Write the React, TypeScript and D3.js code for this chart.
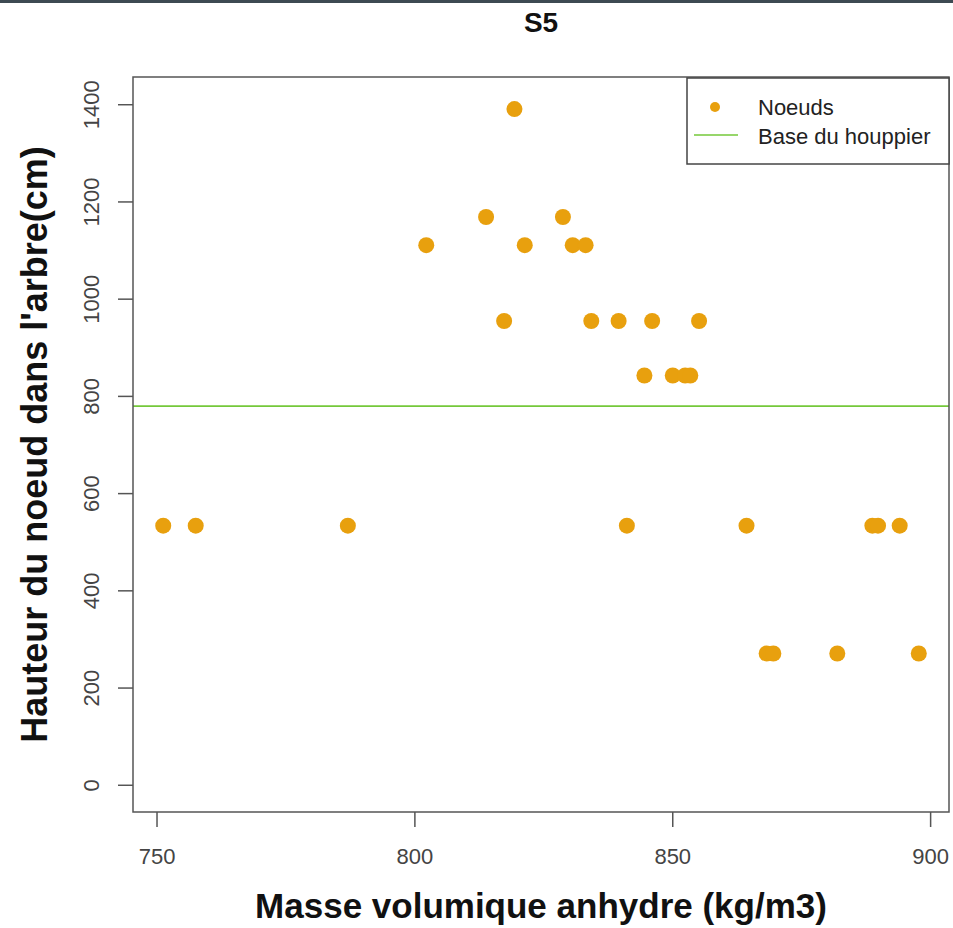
import * as d3 from "d3";
import { useEffect, useRef } from "react";

// masse volumique anhydre (kg/m3) et hauteur du noeud (cm)
const density = [
  751.3, 757.6, 787.1, 841.2, 864.4, 888.8, 889.9, 894.1,
  819.4,
  813.9, 828.8,
  802.3, 821.4, 830.7, 833.2,
  817.4, 834.3, 839.6, 846.1, 855.2,
  844.6, 850.1, 852.5, 853.5,
  868.3, 869.6, 882.0, 897.8,
];
const height = [
  533, 533, 533, 533, 533, 533, 533, 533,
  1390,
  1168, 1168,
  1110, 1110, 1110, 1110,
  954, 954, 954, 954, 954,
  842, 842, 842, 842,
  270, 270, 270, 270,
];
const crownBase = 779;
const xTicks = [750, 800, 850, 900];
const yTicks = [0, 200, 400, 600, 800, 1000, 1200, 1400];
const legendLabels = ["Noeuds", "Base du houppier"];

const W = 953;
const H = 928;
const dotColor = "#E8A00E";
const lineColor = "#74C83A";

const App = () => {
  const svgRef = useRef<SVGSVGElement>(null);

  useEffect(() => {
    const svg = d3.select(svgRef.current);
    svg.selectAll("*").remove();

    const left = 133, right = 949, top = 77, bottom = 812;

    // R style: 4% extension of the ranges
    const xmin = d3.min(density)!, xmax = d3.max(density)!;
    const xpad = (xmax - xmin) * 0.04;
    const x = d3.scaleLinear().domain([xmin - xpad, xmax + xpad]).range([left, right]);
    const y = d3.scaleLinear().domain([0 - 56, 1400 + 56]).range([bottom, top]);

    svg.append("rect").attr("x", 0).attr("y", 0).attr("width", W).attr("height", H).attr("fill", "#fff");
    svg.append("rect").attr("x", 0).attr("y", 0).attr("width", W).attr("height", 3).attr("fill", "#3d4a52");

    const font = "'Liberation Sans', Arial, sans-serif";

    // title
    svg.append("text")
      .attr("x", (left + right) / 2).attr("y", 32)
      .attr("text-anchor", "middle")
      .style("font-family", font).style("font-weight", "bold").style("font-size", "28px")
      .attr("fill", "#111")
      .text("S5");

    // crown base line
    svg.append("line")
      .attr("x1", left).attr("x2", right)
      .attr("y1", y(crownBase)).attr("y2", y(crownBase))
      .attr("stroke", lineColor).attr("stroke-width", 1.6);

    // points
    svg.append("g")
      .selectAll("circle")
      .data(density.map((d, i) => [d, height[i]]))
      .join("circle")
      .attr("cx", (d) => x(d[0]))
      .attr("cy", (d) => y(d[1]))
      .attr("r", 8)
      .attr("fill", dotColor);

    // axes
    const xAxis = d3.axisBottom(x).tickValues(xTicks).tickSize(15).tickPadding(21).tickFormat(d3.format("d"));
    const gx = svg.append("g").attr("transform", `translate(0, ${bottom})`).call(xAxis);
    gx.select(".domain").remove();
    gx.selectAll("line").attr("stroke", "#555").attr("stroke-width", 1.5);
    gx.selectAll("text").style("font-family", font).style("font-size", "22px").attr("fill", "#444");

    const yAxis = d3.axisLeft(y).tickValues(yTicks).tickSize(15).tickFormat(d3.format("d"));
    const gy = svg.append("g").attr("transform", `translate(${left}, 0)`).call(yAxis);
    gy.select(".domain").remove();
    gy.selectAll("line").attr("stroke", "#555").attr("stroke-width", 1.5);
    gy.selectAll("text")
      .attr("x", 0).attr("dy", null)
      .attr("transform", "translate(-42,0) rotate(-90)")
      .attr("text-anchor", "middle")
      .attr("dominant-baseline", "central")
      .style("font-family", font).style("font-size", "22px").attr("fill", "#444");

    // box
    svg.append("rect")
      .attr("x", left).attr("y", top)
      .attr("width", right - left).attr("height", bottom - top)
      .attr("fill", "none").attr("stroke", "#555").attr("stroke-width", 1.5);

    // axis labels
    svg.append("text")
      .attr("x", (left + right) / 2).attr("y", 918)
      .attr("text-anchor", "middle")
      .style("font-family", font).style("font-weight", "bold").style("font-size", "35px")
      .attr("fill", "#111")
      .text("Masse volumique anhydre (kg/m3)");

    svg.append("text")
      .attr("transform", `translate(47, ${(top + bottom) / 2}) rotate(-90)`)
      .attr("text-anchor", "middle")
      .style("font-family", font).style("font-weight", "bold").style("font-size", "36px")
      .attr("fill", "#111")
      .text("Hauteur du noeud dans l'arbre(cm)");

    // legend
    const lg = svg.append("g");
    lg.append("rect")
      .attr("x", 687).attr("y", 78).attr("width", 262).attr("height", 86)
      .attr("fill", "#fff").attr("stroke", "#444").attr("stroke-width", 1.5);
    lg.append("circle").attr("cx", 715).attr("cy", 107).attr("r", 5).attr("fill", dotColor);
    lg.append("line")
      .attr("x1", 694).attr("x2", 738).attr("y1", 135).attr("y2", 135)
      .attr("stroke", lineColor).attr("stroke-width", 1.6);
    lg.selectAll("text.lbl")
      .data(legendLabels)
      .join("text")
      .attr("class", "lbl")
      .attr("x", 758)
      .attr("y", (d, i) => 115 + i * 29)
      .style("font-family", font).style("font-size", "22px")
      .attr("fill", "#222")
      .text((d) => d);
  }, []);

  return <svg ref={svgRef} width={W} height={H} style={{ display: "block", position: "absolute", left: 0, top: 0 }}></svg>;
};

export default App;
